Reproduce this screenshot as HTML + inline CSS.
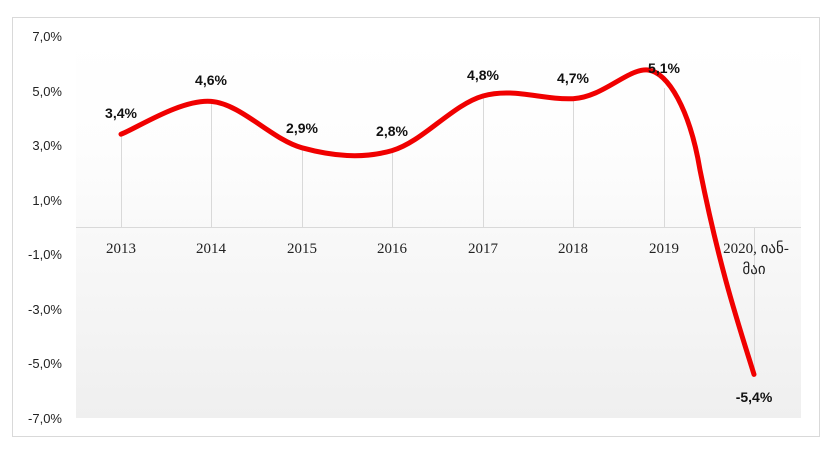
<!DOCTYPE html>
<html><head><meta charset="utf-8"><style>
html,body{margin:0;padding:0;background:#fff;}
</style></head><body>
<svg width="836" height="452" xmlns="http://www.w3.org/2000/svg">
<defs><linearGradient id="g" x1="0" y1="0" x2="0" y2="1">
<stop offset="0" stop-color="#ffffff"/><stop offset="0.3" stop-color="#fdfdfd"/><stop offset="1" stop-color="#efefef"/></linearGradient></defs>
<rect x="12.5" y="17.5" width="807" height="419" fill="#fff" stroke="#d9d9d9"/>
<rect x="76" y="36" width="725" height="382" fill="url(#g)"/>
<g stroke="#d9d9d9" stroke-width="1">
<line x1="121.5" y1="134" x2="121.5" y2="227"/>
<line x1="211.5" y1="101" x2="211.5" y2="227"/>
<line x1="302.5" y1="148" x2="302.5" y2="227"/>
<line x1="392.5" y1="151" x2="392.5" y2="227"/>
<line x1="483.5" y1="96" x2="483.5" y2="227"/>
<line x1="573.5" y1="99" x2="573.5" y2="227"/>
<line x1="664.5" y1="88" x2="664.5" y2="227"/>
<line x1="754.5" y1="227" x2="754.5" y2="374"/>
<line x1="76" y1="227.5" x2="801" y2="227.5"/>
</g>
<g font-family="Liberation Sans, sans-serif" font-size="13" fill="#222" text-anchor="end">
<text x="62" y="41">7,0%</text><text x="62" y="96">5,0%</text><text x="62" y="150">3,0%</text><text x="62" y="205">1,0%</text>
<text x="62" y="259">-1,0%</text><text x="62" y="314">-3,0%</text><text x="62" y="368">-5,0%</text><text x="62" y="423">-7,0%</text>
</g>
<g font-family="Liberation Serif, serif" font-size="15" fill="#222" text-anchor="middle">
<text x="121" y="253">2013</text><text x="211" y="253">2014</text><text x="302" y="253">2015</text><text x="392" y="253">2016</text>
<text x="483" y="253">2017</text><text x="573" y="253">2018</text><text x="664" y="253">2019</text>
<text x="756" y="253">2020, იან-</text><text x="754" y="274">მაი</text>
</g>
<path d="M121,134.2 C136,128.7 180.8,99.1 211,101.4 C241.2,103.7 271.8,139.6 302,147.8 C332.2,156 361.8,159.2 392,150.6 C422.2,142 452.8,104.6 483,96 C513.2,87.3 542.8,100.1 573,98.7 C603.2,97.3 628,68 648,70 C668,72 690,110 700,170 C720,270 739,326 754,374.4" fill="none" stroke="#f00000" stroke-width="5" stroke-linecap="round"/>
<g font-family="Liberation Sans, sans-serif" font-size="14" font-weight="bold" fill="#111" text-anchor="middle">
<text x="121" y="118">3,4%</text><text x="211" y="85">4,6%</text><text x="302" y="133">2,9%</text><text x="392" y="136">2,8%</text>
<text x="483" y="80">4,8%</text><text x="573" y="83">4,7%</text><text x="664" y="73">5,1%</text><text x="754" y="402">-5,4%</text>
</g>
</svg>
</body></html>
